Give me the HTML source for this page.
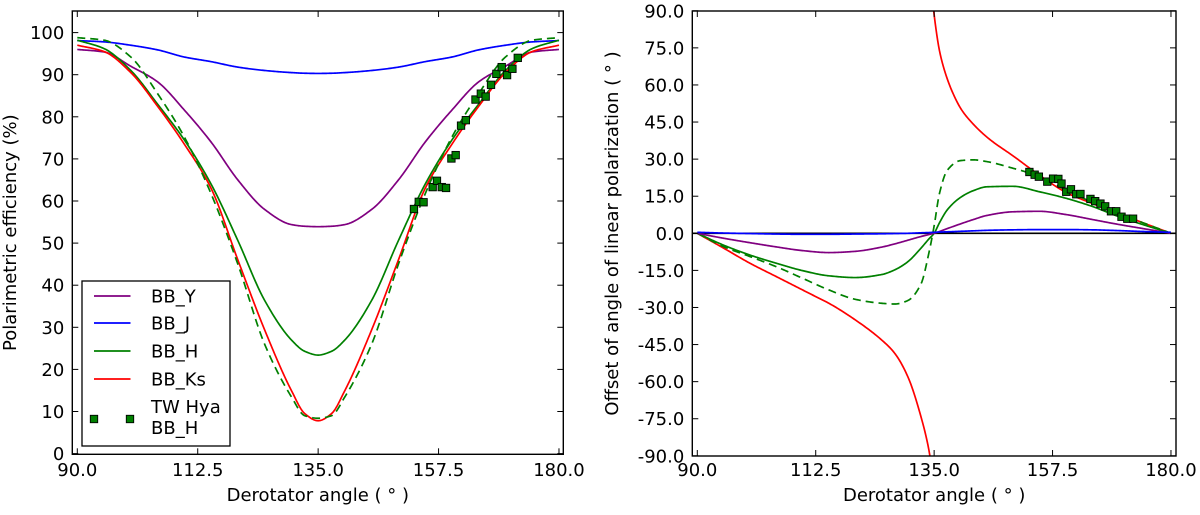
<!DOCTYPE html>
<html><head><meta charset="utf-8"><style>
html,body{margin:0;padding:0;background:#fff;}
svg{display:block;font-family:"DejaVu Sans","Liberation Sans",sans-serif;}
</style></head><body>
<svg id="fig" width="1200" height="515" viewBox="0 0 1200 515">
<defs>
<clipPath id="clipL"><rect x="72.3" y="11" width="491" height="443.3"/></clipPath>
<clipPath id="clipR"><rect x="692.3" y="11" width="483.7" height="445"/></clipPath>
</defs>
<g id="left"></g>
<g id="right"></g>
</svg>
<script>
// ---------- Left panel data ----------
const gridL = [90,95,100,105,110,115,120,125,130,132.5,135,137.5,140,145,150,155,160,165,170,175,180];
const effY  = [96,95.4,92,88.3,81.6,74,65,58,54.4,54.0,53.9,54.0,54.4,58,65,74,81.6,88.3,92,95.4,96];
const effJ  = [98.1,97.8,97,95.9,94.2,93.1,91.8,91,90.5,90.35,90.3,90.35,90.5,91,91.8,93.1,94.2,95.9,97,97.8,98.1];
const effH  = [98.2,96.2,91,83,74.5,64,50.6,36.4,27,24.3,23.4,24.3,27,36.4,50.6,64,74.5,83,91,96.2,98.2];
const effKs = [97,95.5,90.5,82.5,73.5,63,46,29.4,15,9.5,7.8,9.5,15,29.4,46,63,73.5,82.5,90.5,95.5,97];
const effHd = [98.8,98.2,94.2,85.5,75.2,61.7,45,26,13.5,9,8.4,9,13.5,26,45,61.7,75.2,85.5,94.2,98.2,98.8];
const obsAngL = [152.9,153.8,154.7,156.4,157.2,158.1,158.9,159.9,160.7,161.7,162.6,164.4,165.4,166.3,167.3,168.3,169.3,170.3,171.3,172.3];
const obsEff  = [58.1,59.8,59.7,63.3,64.8,63.3,63.1,70.1,70.9,77.9,79.2,84.1,85.5,84.8,87.6,90.2,91.8,89.9,91.4,94.0];
const xTicks = [90,112.5,135,157.5,180];
const xTickLabels = ["90.0","112.5","135.0","157.5","180.0"];
const yTicksL = [0,10,20,30,40,50,60,70,80,90,100];
const yTickLabelsL = ["0","10","20","30","40","50","60","70","80","90","100"];

// ---------- Right panel data ----------
const gridR = [90,95,100,105,110,115,120,125,127.5,130,132.5,134,135,136,137.5,140,142.5,145,150,155,160,165,170,175,180];
const offY  = [0,-2,-3.8,-5.5,-7,-7.8,-7.3,-5.6,-4.3,-2.8,-1.3,-0.5,0,0.7,1.9,3.8,5.6,7.2,8.7,8.9,7.6,5.6,3.6,1.8,0];
const offJ  = [0.4,0.1,-0.1,-0.3,-0.4,-0.4,-0.3,-0.2,-0.1,0,0.2,0.3,0.4,0.5,0.6,0.8,1,1.2,1.4,1.5,1.5,1.4,1.1,0.7,0.4];
const offH  = [0,-4.8,-8.8,-12.1,-15.1,-17.2,-17.9,-16.7,-14.8,-11.5,-6,-2.3,0,4.2,9.5,14.5,17.3,18.8,19,16.8,14.2,10.9,6.8,3.3,0];
const offHd = [0,-5.4,-9.4,-13.5,-18.2,-22.9,-26.7,-28.3,-28.6,-27.2,-20.5,-8,3,16,25.5,29.4,29.7,29,26.3,23,17.5,12.6,8.1,4,0];
const ksAngA = [90,95,100,105,110,112.5,115,120,125,127.5,130,132.5,134,134.6];
const offKsA = [0,-6,-12.1,-17.5,-22.9,-25.6,-28.3,-35,-43.1,-48.5,-58,-74.2,-87.6,-96];
const ksAngB = [134.6,135.2,136,137.1,138.5,140.2,142.5,145.2,150.2,155.2,160.2,165,170,175,180];
const offKsB = [96,85,74,65,57,50,44,38.6,31.0,23.2,16.4,12.1,8.1,4,0];
const obsAngR = [153.1,154.1,154.9,156.5,157.6,158.6,159.2,160.1,161.0,162.0,162.8,164.7,165.6,166.6,167.5,168.6,169.6,170.6,171.7,172.8];
const obsOff  = [24.8,23.7,22.9,20.9,22.1,22.0,20.1,16.8,17.8,15.8,15.9,13.9,13.0,12.0,10.9,8.9,8.9,6.7,5.9,5.9];
const yTicksR = [-90,-75,-60,-45,-30,-15,0,15,30,45,60,75,90];
const yTickLabelsR = ["-90.0","-75.0","-60.0","-45.0","-30.0","-15.0","0.0","15.0","30.0","45.0","60.0","75.0","90.0"];

const NS = "http://www.w3.org/2000/svg";
function mk(parent, tag, attrs){ const e=document.createElementNS(NS,tag); for(const k in attrs) e.setAttribute(k,attrs[k]); parent.appendChild(e); return e; }
// monotone cubic (Fritsch-Carlson) interpolation, sampled densely
function smoothPath(xs, ys, fx, fy){
  const n=xs.length, d=[], m=new Array(n);
  for(let i=0;i<n-1;i++) d.push((ys[i+1]-ys[i])/(xs[i+1]-xs[i]));
  m[0]=d[0]; m[n-1]=d[n-2];
  for(let i=1;i<n-1;i++){
    if(d[i-1]*d[i]<=0) m[i]=0;
    else { const h0=xs[i]-xs[i-1], h1=xs[i+1]-xs[i]; const w1=2*h1+h0, w2=h1+2*h0; m[i]=(w1+w2)/(w1/d[i-1]+w2/d[i]); }
  }
  let pts=[];
  for(let i=0;i<n-1;i++){
    const h=xs[i+1]-xs[i], steps=Math.max(4,Math.ceil(h/0.2));
    for(let s=0;s<(i==n-2?steps+1:steps);s++){
      const t=s/steps, t2=t*t, t3=t2*t;
      const y=(2*t3-3*t2+1)*ys[i]+(t3-2*t2+t)*h*m[i]+(-2*t3+3*t2)*ys[i+1]+(t3-t2)*h*m[i+1];
      pts.push(fx(xs[i]+t*h).toFixed(2)+","+fy(y).toFixed(2));
    }
  }
  return "M"+pts.join(" L");
}

const xL = a => 77.3 + (a-90)*5.352;
const yL = v => 453.6 - v*4.21;
const xR = a => 697.3 + (a-90)*5.263;
const yR = v => 233.3 - v*2.4725;

function drawAxes(g, fx, fy, frame, yTicks, yLabels, ylabelText, ylabelX){
  const [fx0,fy0,fx1,fy1] = frame;
  xTicks.forEach((t,i)=>{
    const x=fx(t);
    let tk=mk(g,"line",{x1:x,y1:fy1,x2:x,y2:fy1-6,stroke:"#000","stroke-width":1});
    
    
    let tk2=mk(g,"line",{x1:x,y1:fy0,x2:x,y2:fy0+6,stroke:"#000","stroke-width":1});
    
    
    const tl=mk(g,"text",{x:x,y:476,"text-anchor":"middle","font-size":18,fill:"#000"});
    tl.textContent=xTickLabels[i];
    
    
  });
  yTicks.forEach((t,i)=>{
    const y=fy(t);
    let tk=mk(g,"line",{x1:fx0,y1:y,x2:fx0+6,y2:y,stroke:"#000","stroke-width":1});
    
    
    let tk2=mk(g,"line",{x1:fx1,y1:y,x2:fx1-6,y2:y,stroke:"#000","stroke-width":1});
    
    
    const tl=mk(g,"text",{x:fx0-8,y:y+6.5,"text-anchor":"end","font-size":18,fill:"#000"});
    tl.textContent=yLabels[i];
    
    
  });
  const xt=mk(g,"text",{x:(fx0+fx1)/2,y:501,"text-anchor":"middle","font-size":18,fill:"#000"});
  xt.textContent="Derotator angle ( ° )";
  
  
  const cy=(fy0+fy1)/2;
  const yt=mk(g,"text",{x:ylabelX,y:cy,"text-anchor":"middle","font-size":18,fill:"#000",transform:"rotate(-90 "+ylabelX+" "+cy+")"});
  yt.textContent=ylabelText;
  
  
}
function line(g, xs, ys, fx, fy, color, name, dash, clip){
  const p=mk(g,"path",{d:smoothPath(xs,ys,fx,fy),fill:"none",stroke:color,"stroke-width":1.7,"stroke-linejoin":"round","clip-path":"url(#"+clip+")"});
  if(dash) p.setAttribute("stroke-dasharray",dash);
  
  
}
function markers(g, xs, ys, name, clip){
  xs.forEach((x,i)=>{
    const r=mk(g,"rect",{x:x-3.7,y:ys[i]-3.7,width:7.4,height:7.4,fill:"#008000",stroke:"#000","stroke-width":0.9,"clip-path":"url(#"+clip+")"});
    
    
  });
}

// ---- Left ----
const gl=document.getElementById("left");
line(gl, gridL, effY, xL, yL, "#800080", "line-bb-y", null, "clipL");
line(gl, gridL, effJ, xL, yL, "#0000ff", "line-bb-j", null, "clipL");
line(gl, gridL, effH, xL, yL, "#008000", "line-bb-h", null, "clipL");
line(gl, gridL, effKs, xL, yL, "#ff0000", "line-bb-ks", null, "clipL");
line(gl, gridL, effHd, xL, yL, "#008000", "line-bb-h-model-dashed", "8,5", "clipL");
markers(gl, obsAngL.map(xL), obsEff.map(yL), "tw-hya-marker", "clipL");
let fl=mk(gl,"rect",{x:72.3,y:11,width:491,height:443.3,fill:"none",stroke:"#000","stroke-width":1.4});


drawAxes(gl, xL, yL, [72.3,11,563.3,454.3], yTicksL, yTickLabelsL, "Polarimetric efficiency (%)", 16);

// legend
const lg=mk(gl,"g",{});


let lb=mk(lg,"rect",{x:82,y:281,width:148,height:165,fill:"#fff",stroke:"#000","stroke-width":1.3});


const legNames=["BB_Y","BB_J","BB_H","BB_Ks"];
const legColors=["#800080","#0000ff","#008000","#ff0000"];
const legY=[296,323,351,379];
legNames.forEach((n,i)=>{
  const l=mk(lg,"line",{x1:94,y1:legY[i],x2:130.5,y2:legY[i],stroke:legColors[i],"stroke-width":1.7});
  
  
  const t=mk(lg,"text",{x:151,y:legY[i]+6.5,"font-size":18,fill:"#000"});
  t.textContent=n;
  
  
});
[94,130].forEach(x=>{
  const r=mk(lg,"rect",{x:x-3.7,y:419-3.7,width:7.4,height:7.4,fill:"#008000",stroke:"#000","stroke-width":0.9});
  
  
});
const t1=mk(lg,"text",{x:151,y:413,"font-size":18,fill:"#000"});
t1.textContent="TW Hya";


const t2=mk(lg,"text",{x:151,y:434,"font-size":18,fill:"#000"});
t2.textContent="BB_H";



// ---- Right ----
const gr=document.getElementById("right");
let zl=mk(gr,"line",{x1:692.3,y1:yR(0),x2:1176,y2:yR(0),stroke:"#000","stroke-width":1.6});


line(gr, ksAngA, offKsA, xR, yR, "#ff0000", "line-bb-ks-left", null, "clipR");
line(gr, ksAngB, offKsB, xR, yR, "#ff0000", "line-bb-ks-right", null, "clipR");
line(gr, gridR, offHd, xR, yR, "#008000", "line-bb-h-model-dashed", "8,5", "clipR");
line(gr, gridR, offH, xR, yR, "#008000", "line-bb-h", null, "clipR");
line(gr, gridR, offY, xR, yR, "#800080", "line-bb-y", null, "clipR");
line(gr, gridR, offJ, xR, yR, "#0000ff", "line-bb-j", null, "clipR");
markers(gr, obsAngR.map(xR), obsOff.map(yR), "tw-hya-marker", "clipR");
let fr=mk(gr,"rect",{x:692.3,y:11,width:483.7,height:445,fill:"none",stroke:"#000","stroke-width":1.4});


drawAxes(gr, xR, yR, [692.3,11,1176,456], yTicksR, yTickLabelsR, "Offset of angle of linear polarization ( ° )", 618);
</script>
</body></html>
